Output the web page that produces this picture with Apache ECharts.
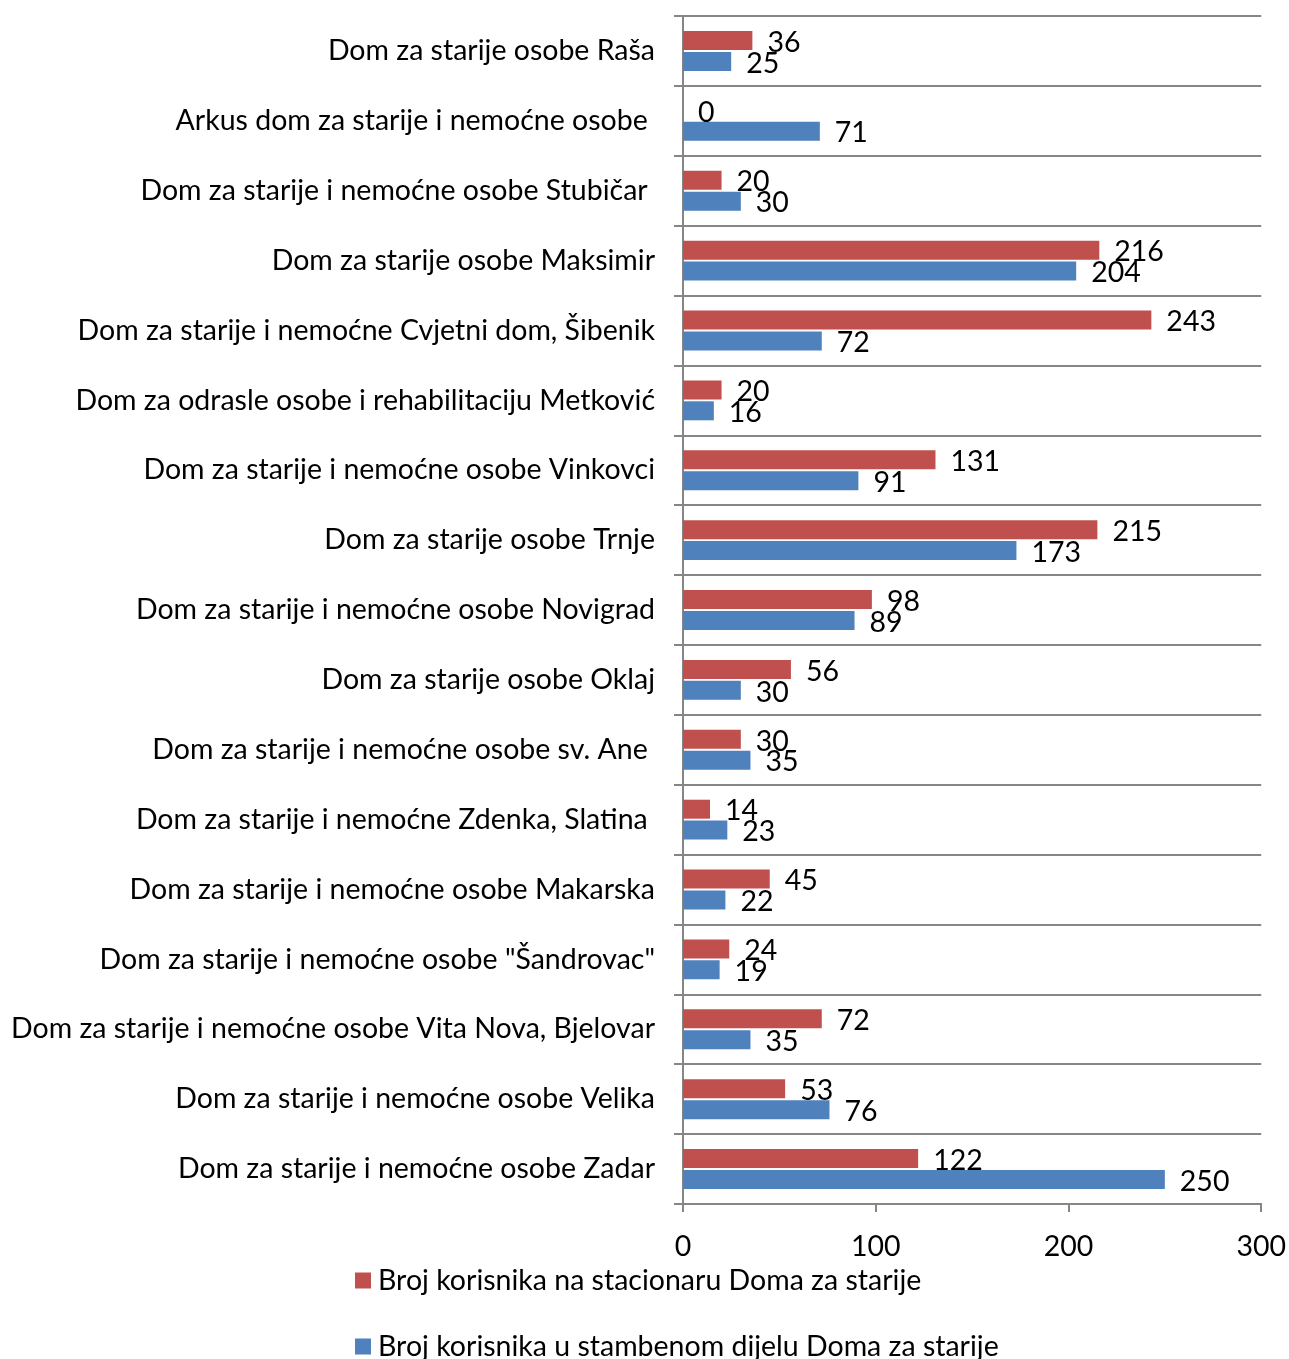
<!DOCTYPE html>
<html>
<head>
<meta charset="utf-8">
<script src="https://cdn.jsdelivr.net/npm/echarts@6/dist/echarts.min.js"></script>
<style>
  html, body { margin: 0; padding: 0; background: #fff; }
  #chart { width: 1289px; height: 1359px; }
</style>
</head>
<body>
<div id="chart"></div>
<script>
// Homes for the elderly, listed top to bottom
const categories = [
  'Dom za starije osobe Raša',
  'Arkus dom za starije i nemoćne osobe ',
  'Dom za starije i nemoćne osobe Stubičar ',
  'Dom za starije osobe Maksimir',
  'Dom za starije i nemoćne Cvjetni dom, Šibenik',
  'Dom za odrasle osobe i rehabilitaciju Metković',
  'Dom za starije i nemoćne osobe Vinkovci',
  'Dom za starije osobe Trnje',
  'Dom za starije i nemoćne osobe Novigrad',
  'Dom za starije osobe Oklaj',
  'Dom za starije i nemoćne osobe sv. Ane ',
  'Dom za starije i nemoćne Zdenka, Slatina ',
  'Dom za starije i nemoćne osobe Makarska',
  'Dom za starije i nemoćne osobe "Šandrovac"',
  'Dom za starije i nemoćne osobe Vita Nova, Bjelovar',
  'Dom za starije i nemoćne osobe Velika',
  'Dom za starije i nemoćne osobe Zadar'
];

const stacionarName = 'Broj korisnika na stacionaru Doma za starije';
const stambeniName = 'Broj korisnika u stambenom dijelu Doma za starije';

const stacionar = [36, 0, 20, 216, 243, 20, 131, 215, 98, 56, 30, 14, 45, 24, 72, 53, 122];
const stambeni = [25, 71, 30, 204, 72, 16, 91, 173, 89, 30, 35, 23, 22, 19, 35, 76, 250];

const xTicks = { min: 0, max: 300, interval: 100 };

const FONT = 'Lato';
const FONT_SIZE = 28.5;
const GRID_COLOR = '#868686';

const chart = echarts.init(document.getElementById('chart'), null, { renderer: 'canvas' });

const labelStyle = {
  show: true,
  position: 'right',
  distance: 15,
  offset: [0, 2],
  color: '#000',
  fontFamily: FONT,
  fontSize: FONT_SIZE
};

// one legend block per series, stacked vertically
function legendBlock(name, top) {
  return {
    orient: 'vertical',
    left: 350,
    top: top,
    itemWidth: 16,
    itemHeight: 16,
    icon: 'rect',
    textStyle: { fontFamily: FONT, fontSize: FONT_SIZE, color: '#000', padding: [0, 0, 0, 2] },
    data: [name]
  };
}

chart.setOption({
  animation: false,
  textStyle: { fontFamily: FONT },
  grid: { left: 683, right: 27, top: 16, bottom: 155, containLabel: false },
  legend: [legendBlock(stacionarName, 1261), legendBlock(stambeniName, 1327)],
  xAxis: {
    type: 'value',
    min: xTicks.min,
    max: xTicks.max,
    interval: xTicks.interval,
    axisLine: { show: true, lineStyle: { color: GRID_COLOR, width: 2 } },
    axisTick: { show: true, length: 8, lineStyle: { color: GRID_COLOR, width: 2 } },
    axisLabel: { color: '#000', fontFamily: FONT, fontSize: FONT_SIZE, margin: 28 },
    splitLine: { show: false }
  },
  yAxis: {
    type: 'category',
    inverse: true,
    data: categories,
    axisLine: { show: true, lineStyle: { color: GRID_COLOR, width: 2 } },
    axisTick: { show: true, length: 9, lineStyle: { color: GRID_COLOR, width: 2 } },
    axisLabel: { color: '#000', fontFamily: FONT, fontSize: FONT_SIZE, margin: 28 },
    splitLine: { show: true, lineStyle: { color: GRID_COLOR, width: 2 } }
  },
  series: [
    {
      name: stacionarName,
      type: 'bar',
      data: stacionar,
      barWidth: 19,
      barGap: '10%',
      itemStyle: { color: '#C0504D' },
      label: labelStyle
    },
    {
      name: stambeniName,
      type: 'bar',
      data: stambeni,
      barWidth: 19,
      barGap: '10%',
      itemStyle: { color: '#4F81BD' },
      label: labelStyle
    }
  ]
});
</script>
</body>
</html>
